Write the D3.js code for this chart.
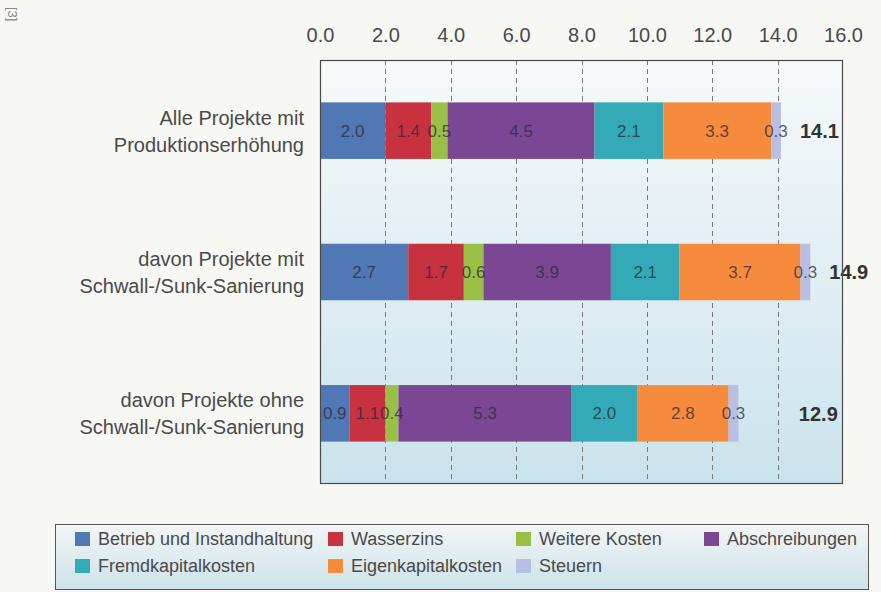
<!DOCTYPE html>
<html>
<head>
<meta charset="utf-8">
<script src="https://cdn.jsdelivr.net/npm/d3@7"></script>
<style>
  html, body { margin: 0; padding: 0; background: #f7f7f4; }
  svg { display: block; font-family: "Liberation Sans", Arial, sans-serif; }
</style>
</head>
<body>
<svg id="chart" width="881" height="592"></svg>
<script>
// Categories (two-line labels)
const categories = [
  ["Alle Projekte mit", "Produktionserhöhung"],
  ["davon Projekte mit", "Schwall-/Sunk-Sanierung"],
  ["davon Projekte ohne", "Schwall-/Sunk-Sanierung"]
];

// Cost components, one value per category
const seriesNames = [
  "Betrieb und Instandhaltung", "Wasserzins", "Weitere Kosten", "Abschreibungen",
  "Fremdkapitalkosten", "Eigenkapitalkosten", "Steuern"
];
const betrieb        = [2.0, 2.7, 0.9];
const wasserzins     = [1.4, 1.7, 1.1];
const weitereKosten  = [0.5, 0.6, 0.4];
const abschreibungen = [4.5, 3.9, 5.3];
const fremdkapital   = [2.1, 2.1, 2.0];
const eigenkapital   = [3.3, 3.7, 2.8];
const steuern        = [0.3, 0.3, 0.3];
const totals         = [14.1, 14.9, 12.9];

const tickValues = [0, 2, 4, 6, 8, 10, 12, 14, 16];
const colors = ["#4f78b5", "#c8313f", "#9abf46", "#7b4795", "#34a9b7", "#f68a3d", "#b9bfe3"];

const seriesValues = [betrieb, wasserzins, weitereKosten, abschreibungen, fremdkapital, eigenkapital, steuern];
const rows = categories.map((c, i) => {
  const r = { idx: i };
  seriesNames.forEach((s, j) => { r[s] = seriesValues[j][i]; });
  return r;
});

const svg = d3.select("#chart");
const plot = { left: 320, right: 843, top: 60, bottom: 484 };

const x = d3.scaleLinear().domain([0, 16]).range([plot.left, plot.right]);
const y = d3.scaleBand().domain(d3.range(categories.length))
  .range([plot.top, plot.bottom]).paddingInner(0.6).paddingOuter(0.3);
const color = d3.scaleOrdinal().domain(seriesNames).range(colors);

// Gradients
const defs = svg.append("defs");
const g1 = defs.append("linearGradient").attr("id", "plotBg").attr("x1", 0).attr("y1", 0).attr("x2", 0).attr("y2", 1);
g1.append("stop").attr("offset", "0%").attr("stop-color", "#f7fafb");
g1.append("stop").attr("offset", "100%").attr("stop-color", "#cae3ec");
const g2 = defs.append("linearGradient").attr("id", "legendBg").attr("x1", 0).attr("y1", 0).attr("x2", 0).attr("y2", 1);
g2.append("stop").attr("offset", "0%").attr("stop-color", "#f2f5f6");
g2.append("stop").attr("offset", "100%").attr("stop-color", "#cde3ea");

// Small rotated reference marker
svg.append("text")
  .attr("transform", "translate(8,7) rotate(90)")
  .attr("font-size", 13).attr("fill", "#888")
  .text("[3]");

// Plot background
svg.append("rect")
  .attr("x", plot.left).attr("y", plot.top)
  .attr("width", plot.right - plot.left).attr("height", plot.bottom - plot.top)
  .attr("fill", "url(#plotBg)");

// Dashed vertical grid
svg.append("g").selectAll("line")
  .data(tickValues.filter(v => v > 0 && v < 16))
  .join("line")
  .attr("x1", d => Math.round(x(d)) + 0.5).attr("x2", d => Math.round(x(d)) + 0.5)
  .attr("y1", plot.top).attr("y2", plot.bottom)
  .attr("stroke", "#7a7a7a").attr("stroke-width", 1)
  .attr("stroke-dasharray", "5,4");

// Top value axis
const axis = svg.append("g")
  .attr("transform", `translate(0,${plot.top})`)
  .call(d3.axisTop(x).tickValues(tickValues).tickFormat(d3.format(".1f")).tickSize(0).tickPadding(18));
axis.select(".domain").remove();
axis.selectAll("text").attr("font-size", 20).attr("fill", "#4a4a4a")
  .attr("font-family", "'Liberation Sans', Arial, sans-serif");

// Stacked bars
const stacked = d3.stack().keys(seriesNames)(rows);
const layers = svg.append("g").selectAll("g")
  .data(stacked).join("g")
  .attr("fill", d => color(d.key));
layers.selectAll("rect")
  .data(d => d)
  .join("rect")
  .attr("x", d => x(d[0]))
  .attr("y", d => y(d.data.idx))
  .attr("width", d => x(d[1]) - x(d[0]))
  .attr("height", y.bandwidth());

// Segment value labels
const labels = svg.append("g");
stacked.forEach(layer => {
  labels.selectAll(null)
    .data(layer)
    .join("text")
    .attr("x", d => (x(d[0]) + x(d[1])) / 2)
    .attr("y", d => y(d.data.idx) + y.bandwidth() / 2)
    .attr("dy", "0.36em")
    .attr("text-anchor", "middle")
    .attr("font-size", 17)
    .attr("fill", "#2a2a36").attr("fill-opacity", 0.75)
    .text(d => d3.format(".1f")(d[1] - d[0]));
});

// Totals
const lastLayer = stacked[stacked.length - 1];
svg.append("g").selectAll("text")
  .data(totals)
  .join("text")
  .attr("x", (d, i) => Math.max(x(14.65), x(lastLayer[i][1]) + 19))
  .attr("y", (d, i) => y(i) + y.bandwidth() / 2)
  .attr("dy", "0.36em")
  .attr("font-size", 20).attr("font-weight", "bold")
  .attr("fill", "#333")
  .text(d => d3.format(".1f")(d));

// Category labels
const cat = svg.append("g").selectAll("text")
  .data(categories)
  .join("text")
  .attr("text-anchor", "end")
  .attr("font-size", 20).attr("fill", "#4a4a4a")
  .attr("transform", (d, i) => `translate(304,${y(i) + y.bandwidth() / 2})`);
cat.selectAll("tspan")
  .data(d => d)
  .join("tspan")
  .attr("x", 0)
  .attr("y", (d, j) => j === 0 ? -6 : 21)
  .text(d => d);

// Plot frame
svg.append("rect")
  .attr("x", plot.left + 0.5).attr("y", plot.top + 0.5)
  .attr("width", plot.right - plot.left - 1).attr("height", plot.bottom - plot.top - 1)
  .attr("fill", "none").attr("stroke", "#4a4a4a").attr("stroke-width", 1.2);

// Legend
const legendBox = { x: 55, y: 524, w: 813, h: 65 };
svg.append("rect")
  .attr("x", legendBox.x + 0.5).attr("y", legendBox.y + 0.5)
  .attr("width", legendBox.w).attr("height", legendBox.h)
  .attr("fill", "url(#legendBg)").attr("stroke", "#555").attr("stroke-width", 1);

const colX = [75, 328, 516, 704];
const rowY = [539, 566];
const legendItems = svg.append("g").selectAll("g")
  .data(seriesNames)
  .join("g")
  .attr("transform", (d, i) => `translate(${colX[i % 4]},${rowY[Math.floor(i / 4)]})`);
legendItems.append("rect")
  .attr("x", 0).attr("y", -7).attr("width", 15).attr("height", 14)
  .attr("fill", d => color(d));
legendItems.append("text")
  .attr("x", 23).attr("dy", "0.36em")
  .attr("font-size", 18).attr("fill", "#4a4a4a")
  .text(d => d);
</script>
</body>
</html>
